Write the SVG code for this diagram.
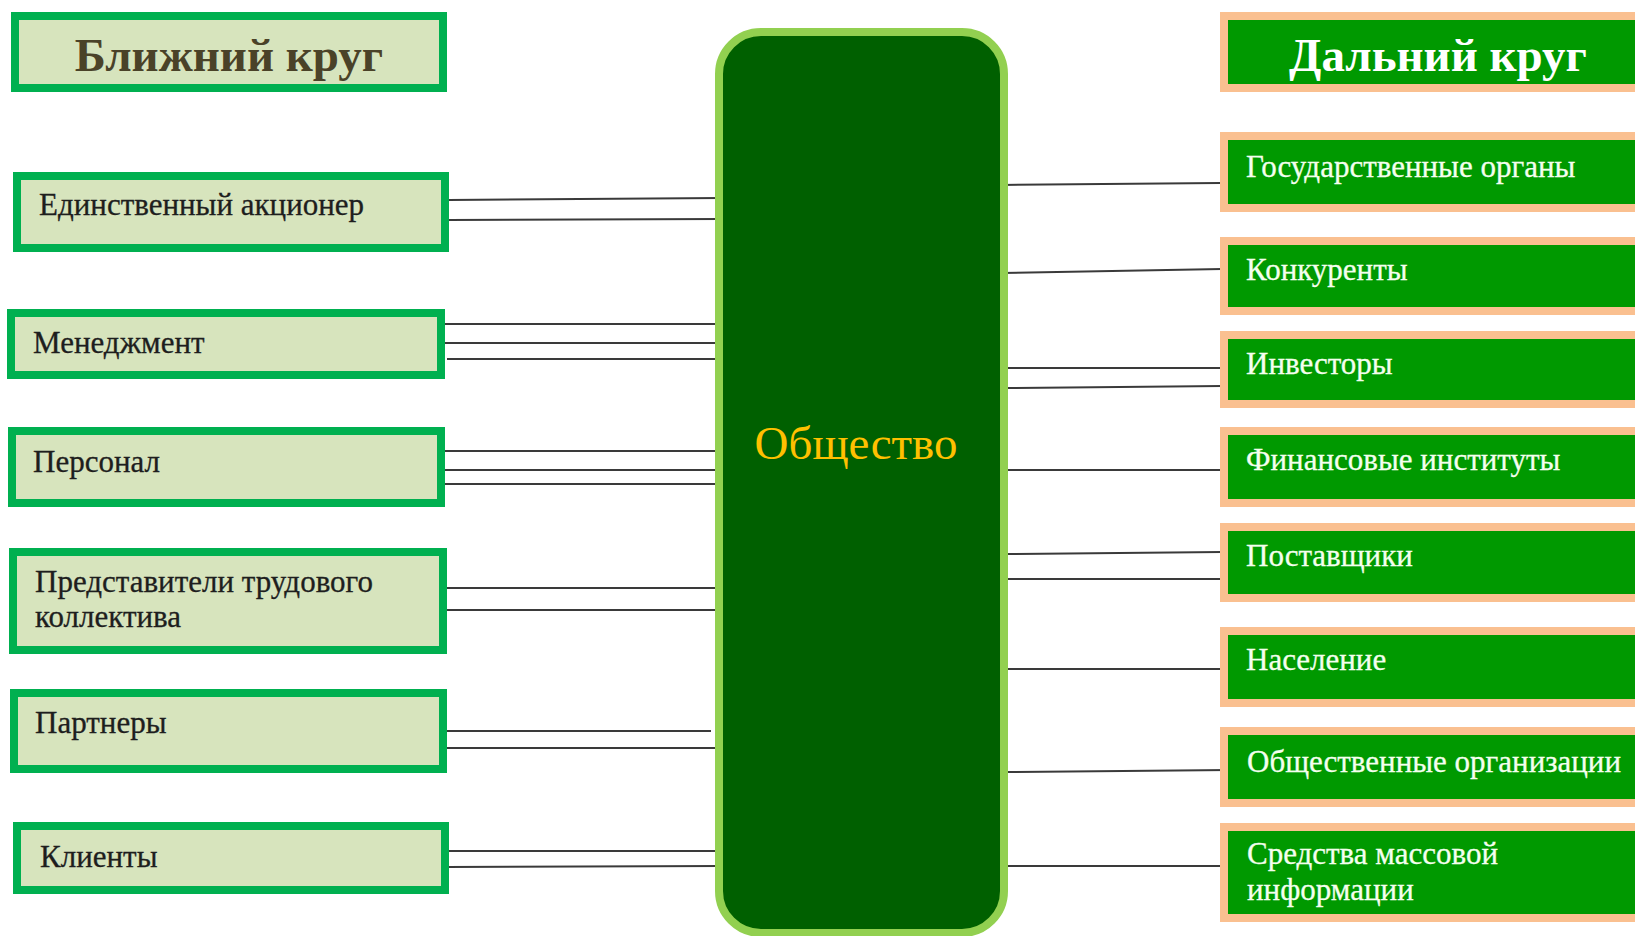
<svg xmlns="http://www.w3.org/2000/svg" width="1635" height="936" viewBox="0 0 1635 936">
<style>
.lb{fill:#D7E4BD;stroke:#00B050;stroke-width:8}
.rb{fill:#009900;stroke:#FAC090;stroke-width:8}
.lt{font-family:"Liberation Serif","Times New Roman",serif;font-size:31px;fill:#1E1E1E;stroke:#1E1E1E;stroke-width:0.3}
.rt{font-family:"Liberation Serif","Times New Roman",serif;font-size:31px;fill:#F4FFEE;stroke:#F4FFEE;stroke-width:0.3}
.ttl{font-family:"Liberation Serif","Times New Roman",serif;font-size:47px;font-weight:bold}
.ln{stroke:#3A3A3A;stroke-width:2;fill:none}
</style>
<rect width="1635" height="936" fill="#FFFFFF"/>
<g id="connectors">
<line class="ln" x1="449" y1="200" x2="722" y2="198"/>
<line class="ln" x1="449" y1="220" x2="722" y2="219"/>
<line class="ln" x1="443" y1="324" x2="723" y2="324"/>
<line class="ln" x1="443" y1="343" x2="723" y2="343"/>
<line class="ln" x1="447" y1="359" x2="718" y2="359" stroke="#808080"/>
<line class="ln" x1="441" y1="451" x2="719" y2="451"/>
<line class="ln" x1="443" y1="470" x2="719" y2="470"/>
<line class="ln" x1="443" y1="484" x2="720" y2="484"/>
<line class="ln" x1="445" y1="588" x2="722" y2="588"/>
<line class="ln" x1="445" y1="610" x2="722" y2="610"/>
<line class="ln" x1="445" y1="731" x2="711" y2="731"/>
<line class="ln" x1="445" y1="748" x2="722" y2="748"/>
<line class="ln" x1="447" y1="851" x2="722" y2="851"/>
<line class="ln" x1="447" y1="867" x2="722" y2="866"/>
<line class="ln" x1="1001" y1="185" x2="1220" y2="183"/>
<line class="ln" x1="1001" y1="273" x2="1222" y2="269"/>
<line class="ln" x1="1006" y1="368" x2="1230" y2="368"/>
<line class="ln" x1="1006" y1="388" x2="1222" y2="386"/>
<line class="ln" x1="1006" y1="470" x2="1230" y2="470"/>
<line class="ln" x1="1006" y1="554" x2="1222" y2="552"/>
<line class="ln" x1="1006" y1="579" x2="1222" y2="579"/>
<line class="ln" x1="1006" y1="669" x2="1228" y2="669"/>
<line class="ln" x1="1006" y1="772" x2="1230" y2="770"/>
<line class="ln" x1="1006" y1="866" x2="1230" y2="866"/>
</g>
<g id="center">
<rect x="719" y="32" width="285" height="901" rx="42" fill="#006000" stroke="#92D050" stroke-width="8"/>
<text x="856" y="459" text-anchor="middle" font-family="Liberation Serif,Times New Roman,serif" font-size="47" fill="#FFC000">Общество</text>
</g>
<g id="near-title">
<rect class="lb" x="15" y="16" width="428" height="72"/>
<text class="ttl" x="229" y="71" text-anchor="middle" fill="#4A4228">Ближний круг</text>
</g>
<g id="n1"><rect class="lb" x="17" y="176" width="428" height="72"/><text class="lt" x="39" y="215">Единственный акционер</text></g>
<g id="n2"><rect class="lb" x="11" y="313" width="430" height="62"/><text class="lt" x="33" y="353">Менеджмент</text></g>
<g id="n3"><rect class="lb" x="12" y="431" width="429" height="72"/><text class="lt" x="33" y="472">Персонал</text></g>
<g id="n4"><rect class="lb" x="13" y="552" width="430" height="98"/><text class="lt" x="35" y="592">Представители трудового</text><text class="lt" x="35" y="627">коллектива</text></g>
<g id="n5"><rect class="lb" x="14" y="693" width="429" height="76"/><text class="lt" x="35" y="733">Партнеры</text></g>
<g id="n6"><rect class="lb" x="17" y="826" width="428" height="64"/><text class="lt" x="40" y="867">Клиенты</text></g>
<g id="far-title">
<rect class="rb" x="1224" y="16" width="480" height="72"/>
<text class="ttl" x="1438" y="71" text-anchor="middle" fill="#FFFFFF">Дальний круг</text>
</g>
<g id="f1"><rect class="rb" x="1224" y="136" width="480" height="72"/><text class="rt" x="1246" y="177">Государственные органы</text></g>
<g id="f2"><rect class="rb" x="1224" y="241" width="480" height="70"/><text class="rt" x="1246" y="280">Конкуренты</text></g>
<g id="f3"><rect class="rb" x="1224" y="335" width="480" height="69"/><text class="rt" x="1246" y="374">Инвесторы</text></g>
<g id="f4"><rect class="rb" x="1224" y="431" width="480" height="72"/><text class="rt" x="1246" y="470">Финансовые институты</text></g>
<g id="f5"><rect class="rb" x="1224" y="527" width="480" height="71"/><text class="rt" x="1246" y="566">Поставщики</text></g>
<g id="f6"><rect class="rb" x="1224" y="631" width="480" height="72"/><text class="rt" x="1246" y="670">Население</text></g>
<g id="f7"><rect class="rb" x="1224" y="731" width="480" height="72"/><text class="rt" x="1247" y="772">Общественные организации</text></g>
<g id="f8"><rect class="rb" x="1224" y="827" width="480" height="91"/><text class="rt" x="1247" y="864">Средства массовой</text><text class="rt" x="1247" y="900">информации</text></g>
</svg>
